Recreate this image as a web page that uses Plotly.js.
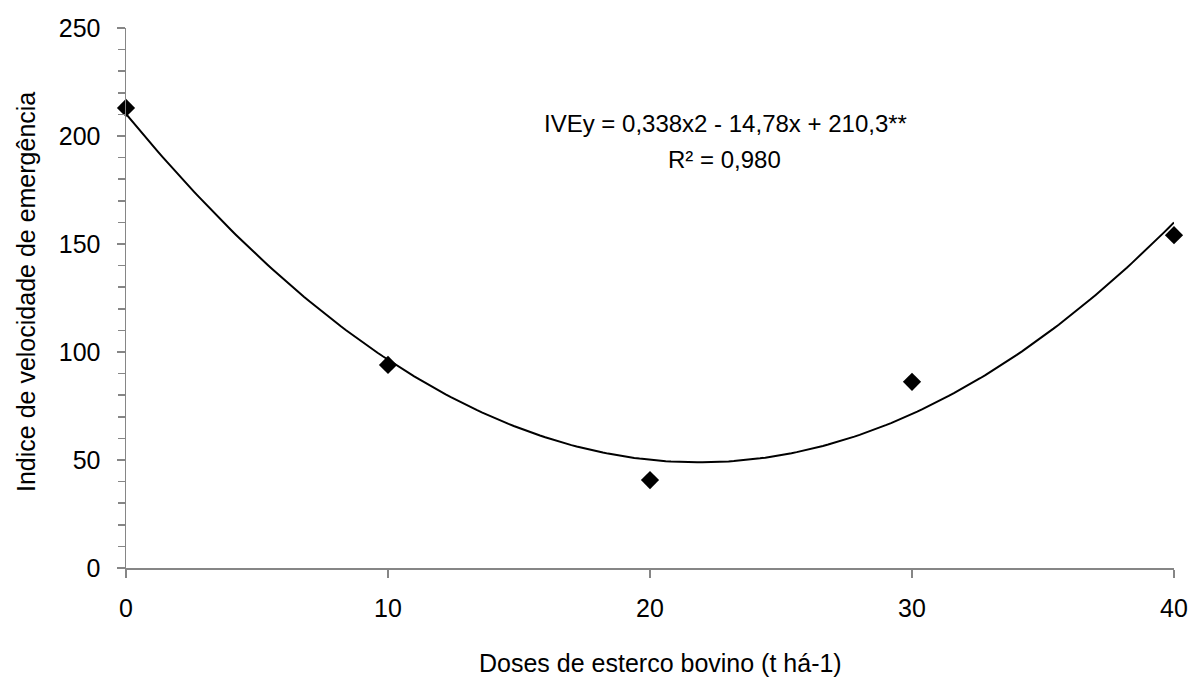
<!DOCTYPE html>
<html>
<head>
<meta charset="utf-8">
<script src="https://cdn.plot.ly/plotly-3.0.1.min.js"></script>
<style>
  html, body { margin: 0; padding: 0; background: #ffffff; }
  #chart { width: 1188px; height: 680px; }
</style>
</head>
<body>
<div id="chart"></div>
<script>
// Data
const doses = [0, 10, 20, 30, 40];
const ive = [213, 94, 40.7, 86.2, 154.1];
const yTickVals = [0, 50, 100, 150, 200, 250];
const xTickVals = [0, 10, 20, 30, 40];
const equationText = "IVEy = 0,338x2 - 14,78x + 210,3**";
const r2Text = "R² = 0,980";
const xTitle = "Doses de esterco bovino (t há-1)";
const yTitle = "Indice de velocidade de emergência";

// Quadratic least-squares trendline fitted to the data (as the spreadsheet trendline)
function polyfit2(xs, ys) {
  let s0 = xs.length, s1 = 0, s2 = 0, s3 = 0, s4 = 0, t0 = 0, t1 = 0, t2 = 0;
  for (let i = 0; i < xs.length; i++) {
    const x = xs[i], y = ys[i];
    s1 += x; s2 += x * x; s3 += x * x * x; s4 += x * x * x * x;
    t0 += y; t1 += x * y; t2 += x * x * y;
  }
  const M = [[s0, s1, s2, t0], [s1, s2, s3, t1], [s2, s3, s4, t2]];
  for (let i = 0; i < 3; i++) {
    for (let j = i + 1; j < 3; j++) {
      const f = M[j][i] / M[i][i];
      for (let k = i; k < 4; k++) M[j][k] -= f * M[i][k];
    }
  }
  const r = [0, 0, 0];
  for (let i = 2; i >= 0; i--) {
    let s = M[i][3];
    for (let k = i + 1; k < 3; k++) s -= M[i][k] * r[k];
    r[i] = s / M[i][i];
  }
  return r; // a + b x + c x^2
}
const coef = polyfit2(doses, ive);
const trendX = [], trendY = [];
const xmin = Math.min(...doses), xmax = Math.max(...doses);
for (let i = 0; i <= 200; i++) {
  const x = xmin + (xmax - xmin) * i / 200;
  trendX.push(x);
  trendY.push(coef[0] + coef[1] * x + coef[2] * x * x);
}

const FONT = '"Liberation Sans", Arial, sans-serif';
const FS = 24;
const TICK_FS = 25;
const axisGrey = '#868686';

const traces = [
  {
    x: trendX, y: trendY, type: 'scatter', mode: 'lines',
    line: { color: '#000000', width: 2 }, hoverinfo: 'skip', showlegend: false, cliponaxis: false
  },
  {
    x: doses, y: ive, type: 'scatter', mode: 'markers',
    marker: { symbol: 'diamond', size: 14, color: '#000000', line: { width: 0 } },
    showlegend: false, cliponaxis: false
  }
];

const layout = {
  width: 1188, height: 680,
  margin: { l: 126, r: 14, t: 28, b: 112 },
  paper_bgcolor: '#ffffff', plot_bgcolor: '#ffffff',
  font: { family: FONT, size: FS, color: '#000000' },
  showlegend: false,
  xaxis: {
    range: [0, 40], tickvals: xTickVals, ticktext: xTickVals.map(String),
    showgrid: false, zeroline: false, showline: true, linecolor: axisGrey, linewidth: 1.5,
    ticks: 'outside', ticklen: 8, tickcolor: axisGrey, tickwidth: 1.5,
    ticklabelstandoff: 9, ticklabeloverflow: 'allow',
    tickfont: { family: FONT, size: TICK_FS, color: '#000000' }
  },
  yaxis: {
    range: [0, 250], tickvals: yTickVals, ticktext: yTickVals.map(String),
    showgrid: false, zeroline: false, showline: true, linecolor: axisGrey, linewidth: 1.5,
    ticks: 'outside', ticklen: 8, tickcolor: axisGrey, tickwidth: 1.5,
    ticklabelstandoff: 11, ticklabeloverflow: 'allow',
    minor: { dtick: 10, ticks: 'outside', ticklen: 7, tickcolor: axisGrey, tickwidth: 1.5, showgrid: false },
    tickfont: { family: FONT, size: TICK_FS, color: '#000000' }
  },
  annotations: [
    { text: equationText, xref: 'paper', yref: 'paper', x: (725 - 126) / 1048, y: (568 - 123) / 540,
      xanchor: 'center', yanchor: 'middle', showarrow: false, font: { family: FONT, size: FS, color: '#000' } },
    { text: r2Text, xref: 'paper', yref: 'paper', x: (724 - 126) / 1048, y: (568 - 159) / 540,
      xanchor: 'center', yanchor: 'middle', showarrow: false, font: { family: FONT, size: FS, color: '#000' } },
    { text: xTitle, xref: 'paper', yref: 'paper', x: (660 - 126) / 1048, y: (568 - 663) / 540,
      xanchor: 'center', yanchor: 'middle', showarrow: false, font: { family: FONT, size: 25, color: '#000' } },
    { text: yTitle, xref: 'paper', yref: 'paper', x: (26 - 126) / 1048, y: (568 - 292) / 540,
      xanchor: 'center', yanchor: 'middle', textangle: -90, showarrow: false, font: { family: FONT, size: 25, color: '#000' } }
  ]
};

Plotly.newPlot('chart', traces, layout, { displayModeBar: false, staticPlot: true });
</script>
</body>
</html>
